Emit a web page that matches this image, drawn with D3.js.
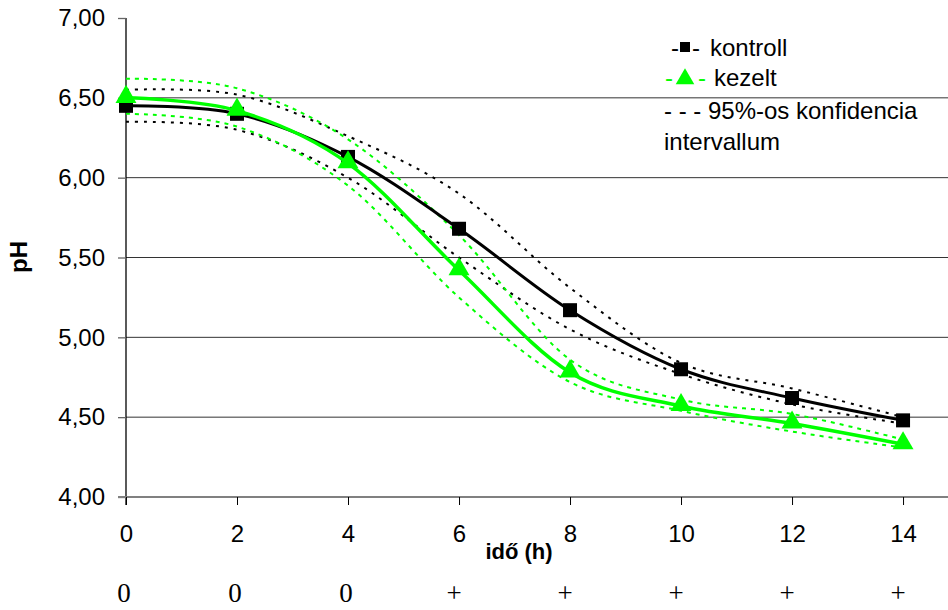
<!DOCTYPE html>
<html>
<head>
<meta charset="utf-8">
<script src="https://cdn.jsdelivr.net/npm/d3@7"></script>
<style>
    body { margin: 0; background: #fff; }
    text { font-family: "Liberation Sans", Arial, sans-serif; }
</style>
</head>
<body>
<div id="chart"></div>
<script>
// *** data
var hours = [0, 2, 4, 6, 8, 10, 12, 14];
var kontroll = [6.45, 6.40, 6.13, 5.68, 5.17, 4.80, 4.62, 4.48];
var kezelt = [6.50, 6.42, 6.09, 5.42, 4.78, 4.57, 4.46, 4.33];
var kontrollUpper = [6.55, 6.52, 6.26, 5.90, 5.31, 4.84, 4.68, 4.50];
var kontrollLower = [6.35, 6.30, 6.00, 5.50, 5.05, 4.77, 4.58, 4.46];
var kezeltUpper = [6.62, 6.56, 6.24, 5.64, 4.86, 4.61, 4.52, 4.36];
var kezeltLower = [6.40, 6.32, 5.95, 5.25, 4.72, 4.54, 4.41, 4.31];
var yTicks = [4.0, 4.5, 5.0, 5.5, 6.0, 6.5, 7.0];
var signRow = ["0", "0", "0", "+", "+", "+", "+", "+"];

var width = 948, height = 610;
var green = "#00ff00";

var svg = d3.select("#chart").append("svg")
    .attr("width", width)
    .attr("height", height);

var x = d3.scaleLinear().domain([0, 14.81]).range([126, 948]);
var y = d3.scaleLinear().domain([4, 7]).range([497, 18]);

var fmt = function(d) { return d3.format(".2f")(d).replace(".", ","); };

// gridlines (none at the top)
svg.append("g")
    .selectAll("line")
    .data(yTicks.filter(function(d) { return d > 4 && d < 7; }))
    .enter().append("line")
    .attr("x1", x(0)).attr("x2", width)
    .attr("y1", function(d) { return y(d); })
    .attr("y2", function(d) { return y(d); })
    .attr("stroke", "#333")
    .attr("stroke-width", 1);

// y axis
var yAxis = d3.axisLeft(y).tickValues(yTicks).tickFormat(fmt).tickSize(8).tickPadding(13);
var gy = svg.append("g")
    .attr("transform", "translate(" + x(0) + ",0)")
    .call(yAxis);
gy.select(".domain").attr("stroke", "#000").attr("stroke-width", 1.3)
    .attr("d", "M0," + y(7) + "V" + (y(4) + 8));
gy.selectAll(".tick line").attr("stroke", "#666").attr("stroke-width", 1.3);
gy.selectAll(".tick text")
    .attr("font-size", 24)
    .attr("fill", "#000")
    .style("font-family", "'Liberation Sans', Arial, sans-serif");

// x axis
var xAxis = d3.axisBottom(x).tickValues(hours).tickFormat(d3.format("d")).tickSize(8).tickPadding(20);
var gx = svg.append("g")
    .attr("transform", "translate(0," + y(4) + ")")
    .call(xAxis);
gx.select(".domain").attr("stroke", "#808080").attr("stroke-width", 2)
    .attr("d", "M" + (x(0) - 8) + ",0H" + width);
gx.selectAll(".tick line").attr("stroke", "#000").attr("stroke-width", 1);
gx.selectAll(".tick text")
    .attr("font-size", 24)
    .attr("fill", "#000")
    .style("font-family", "'Liberation Sans', Arial, sans-serif");

// axis titles
svg.append("text")
    .attr("x", 519).attr("y", 559)
    .attr("text-anchor", "middle")
    .attr("font-size", 22)
    .attr("font-weight", "bold")
    .text("idő (h)");

svg.append("text")
    .attr("transform", "translate(27,257) rotate(-90)")
    .attr("text-anchor", "middle")
    .attr("font-size", 24)
    .attr("font-weight", "bold")
    .text("pH");

// row of signs under the axis
svg.append("g")
    .selectAll("text")
    .data(signRow)
    .enter().append("text")
    .attr("x", function(d, i) { return x(hours[i]) - (d === "+" ? 5 : 2); })
    .attr("y", 602)
    .attr("text-anchor", "middle")
    .attr("font-size", 27)
    .attr("fill", "#000")
    .style("font-family", "'Liberation Serif', 'Times New Roman', serif")
    .text(function(d) { return d; });

// *** lines
var line = d3.line()
    .x(function(d, i) { return x(hours[i]); })
    .y(function(d) { return y(d); })
    .curve(d3.curveCardinal.tension(0));

function ci(vals, color, dash) {
    svg.append("path")
        .datum(vals)
        .attr("d", line)
        .attr("fill", "none")
        .attr("stroke", color)
        .attr("stroke-width", 2)
        .attr("stroke-dasharray", dash);
}
ci(kontrollUpper, "#000", "3,6");
ci(kontrollLower, "#000", "3,6");
ci(kezeltUpper, green, "4,5");
ci(kezeltLower, green, "4,5");

svg.append("path")
    .datum(kontroll)
    .attr("d", line)
    .attr("fill", "none")
    .attr("stroke", "#000")
    .attr("stroke-width", 3);

svg.append("g")
    .selectAll("rect")
    .data(kontroll)
    .enter().append("rect")
    .attr("x", function(d, i) { return x(hours[i]) - 7; })
    .attr("y", function(d) { return y(d) - 7; })
    .attr("width", 14).attr("height", 14)
    .attr("fill", "#000");

svg.append("path")
    .datum(kezelt)
    .attr("d", line)
    .attr("fill", "none")
    .attr("stroke", green)
    .attr("stroke-width", 3.5);

var tri = d3.symbol().type(d3.symbolTriangle).size(190);
svg.append("g")
    .selectAll("path")
    .data(kezelt)
    .enter().append("path")
    .attr("d", tri)
    .attr("transform", function(d, i) { return "translate(" + x(hours[i]) + "," + (y(d) - 1) + ")"; })
    .attr("fill", green);

// *** legend
var lg = svg.append("g").attr("font-size", 24);
lg.append("text").attr("x", 671).attr("y", 56).text("-");
lg.append("rect").attr("x", 680).attr("y", 42).attr("width", 10).attr("height", 10).attr("fill", "#000");
lg.append("text").attr("x", 692).attr("y", 56).text("-");
lg.append("text").attr("x", 710).attr("y", 56).text("kontroll");

lg.append("text").attr("x", 665).attr("y", 86).attr("fill", green).text("-");
lg.append("path").attr("d", d3.symbol().type(d3.symbolTriangle).size(150)).attr("transform", "translate(685,79)").attr("fill", green);
lg.append("text").attr("x", 698).attr("y", 86).attr("fill", green).text("-");
lg.append("text").attr("x", 714).attr("y", 86).text("kezelt");

lg.append("text").attr("x", 664).attr("y", 119).text("- - - 95%-os konfidencia");
lg.append("text").attr("x", 664).attr("y", 150).text("intervallum");
</script>
</body>
</html>
